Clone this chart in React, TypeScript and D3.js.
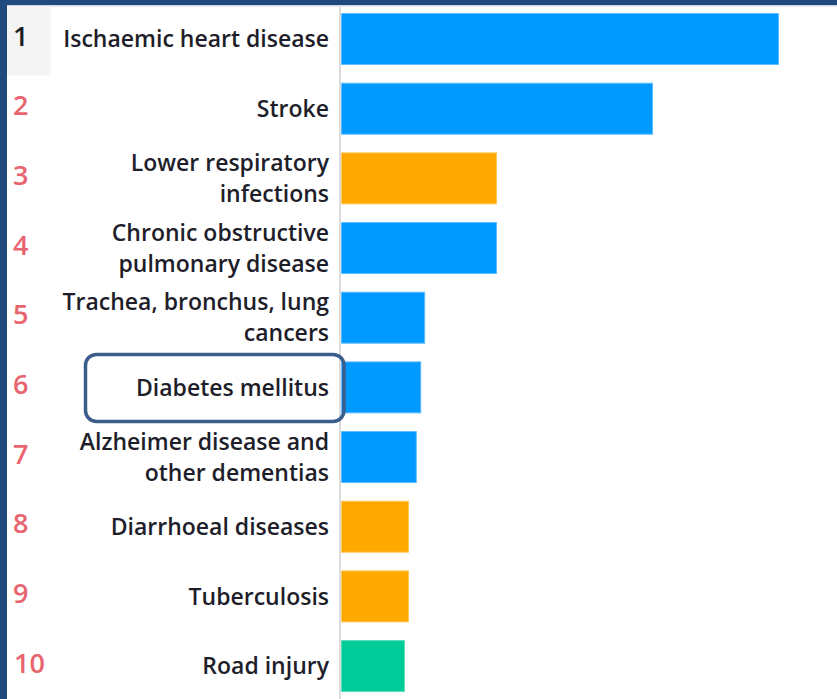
import React from "react";
import * as d3 from "d3";

// Top 10 causes of death, deaths in millions
const ranks = [1, 2, 3, 4, 5, 6, 7, 8, 9, 10];
const causes: string[][] = [
  ["Ischaemic heart disease"],
  ["Stroke"],
  ["Lower respiratory", "infections"],
  ["Chronic obstructive", "pulmonary disease"],
  ["Trachea, bronchus, lung", "cancers"],
  ["Diabetes mellitus"],
  ["Alzheimer disease and", "other dementias"],
  ["Diarrhoeal diseases"],
  ["Tuberculosis"],
  ["Road injury"],
];
const deaths = [8.9, 6.34, 3.17, 3.17, 1.71, 1.63, 1.54, 1.38, 1.38, 1.3];
// Cause groups: noncommunicable, communicable, injuries
const groups = ["ncd", "ncd", "comm", "ncd", "ncd", "ncd", "ncd", "comm", "comm", "inj"];
const highlightedRank = 6;

const groupColor: Record<string, string> = {
  ncd: "#0099ff",
  comm: "#ffa800",
  inj: "#00cc99",
};
const groupEdge: Record<string, string> = {
  ncd: "#5cbcff",
  comm: "#ffc75a",
  inj: "#5cdcb8",
};

const W = 837;
const H = 699;
const FONT = "'Open Sans', 'Segoe UI', sans-serif";

export default function App() {
  const y = d3
    .scaleBand<number>()
    .domain(ranks)
    .range([4.2, 700.9])
    .paddingInner(0.254)
    .paddingOuter(0.127);
  const x = d3.scaleLinear().domain([0, 8.9]).range([341, 779]);
  const labelX = 329;
  const lineGap = 31;

  const hl = y(highlightedRank)! + y.bandwidth() / 2;

  return (
    <svg
      width={W}
      height={H}
      style={{ position: "absolute", left: 0, top: 0, display: "block" }}
      fontFamily={FONT}
    >
      <rect x={0} y={0} width={W} height={H} fill="#ffffff" />
      {/* frame */}
      <rect x={0} y={0} width={W} height={5} fill="#1f4a7e" />
      <rect x={0} y={5} width={W} height={1.5} fill="#d4d8de" />
      <rect x={0} y={0} width={7} height={H} fill="#1f4a7e" />

      {/* shaded rank cell for the first row */}
      <rect x={7} y={6.5} width={44} height={69} fill="#f4f4f4" />

      {/* axis line */}
      <line x1={340} x2={340} y1={6.5} y2={H} stroke="#dcdcdc" strokeWidth={2} />

      {ranks.map((r, i) => {
        const cy = y(r)! + y.bandwidth() / 2;
        const lines = causes[i];
        const first = lines.length === 1 ? cy + 8.2 : cy - 7.3;
        return (
          <g key={r}>
            <rect
              x={x(0) + 0.5}
              y={y(r)! + 0.5}
              width={x(deaths[i]) - x(0) - 1}
              height={y.bandwidth() - 1}
              fill={groupColor[groups[i]]}
              stroke={groupEdge[groups[i]]}
              strokeWidth={1}
            />
            <text
              x={r === 10 ? 14 : 13}
              y={cy + 6.5}
              fontSize={27}
              fontWeight={600}
              fill={r === 1 ? "#1c1c24" : "#e8646e"}
            >
              {r}
            </text>
            <text
              textAnchor="end"
              fontSize={23}
              fontWeight={600}
              fill="#1e1e2a"
            >
              {lines.map((t, k) => (
                <tspan key={k} x={labelX} y={first + k * lineGap}>
                  {t}
                </tspan>
              ))}
            </text>
          </g>
        );
      })}

      {/* highlight box */}
      <rect
        x={85.5}
        y={hl - 33}
        width={258.5}
        height={67}
        rx={11}
        ry={11}
        fill="none"
        stroke="#3a5d8c"
        strokeWidth={3.5}
      />
    </svg>
  );
}
